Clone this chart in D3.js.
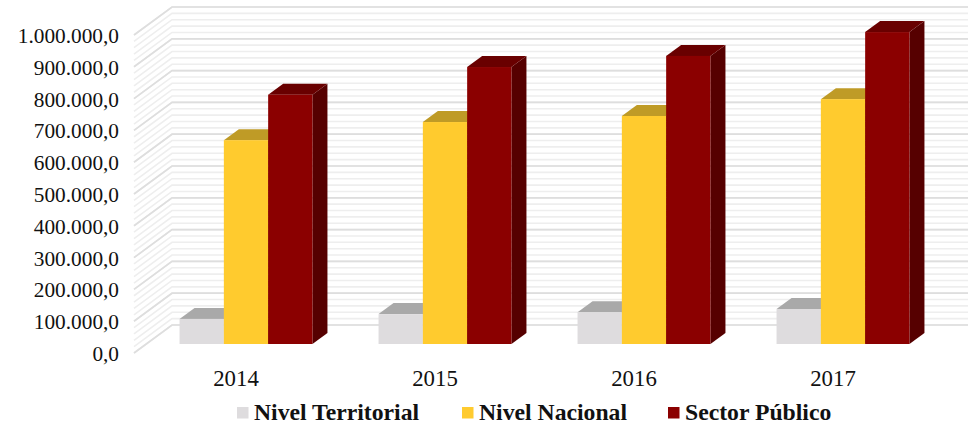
<!DOCTYPE html>
<html><head><meta charset="utf-8">
<script src="https://cdnjs.cloudflare.com/ajax/libs/d3/7.8.5/d3.min.js"></script>
<style>html,body{margin:0;padding:0;background:#fff}svg{display:block}text{font-family:"Liberation Serif",serif;fill:#111}</style>
</head><body><svg id="c" width="973" height="425"></svg>
<script>
const years = ["2014","2015","2016","2017"];
const seriesNames = ["Nivel Territorial","Nivel Nacional","Sector Público"];
const nivelTerritorial = [79000,94000,100000,110000];
const nivelNacional = [641000,698000,717000,770000];
const sectorPublico = [784000,871000,906000,981000];
const seriesValues = [nivelTerritorial,nivelNacional,sectorPublico];
const yTicks = d3.range(0,1000001,100000);
const minorTicks = d3.range(0,1000001,20000);
const frontFill = ["#dedcde","#ffcb2f","#8b0000"];
const topFill = ["#a9a9a9","#bf9b27","#690000"];
const sideFill = ["#7f7f7f","#8c6f14","#560000"];
const legendX = [237,462,668];

const svg = d3.select("#c");
const defs = svg.append("defs");
defs.append("filter").attr("id","soft").attr("x","-5%").attr("y","-5%").attr("width","110%").attr("height","110%")
  .append("feGaussianBlur").attr("stdDeviation",0.5);

// oblique projection: scales per depth plane
const wallH = 318, wallFrontBase = 353, wallDX = 38, wallDY = 28, wallFrontX = 134, wallW = 796;
const barBase = 344, barDX = 15, barDY = 11, plotLeft = 146.5;
const yH = d3.scaleLinear().domain([0,1000000]).range([0,wallH]);
const x0 = d3.scaleBand().domain(years).range([plotLeft,plotLeft+wallW]);
const x1 = d3.scaleBand().domain(d3.range(3)).range([0,x0.bandwidth()]).paddingInner(0).paddingOuter(0.746);

const g = svg.append("g").attr("filter","url(#soft)");
const drawGrid = (ticks,color,w) => {
  const gg = g.append("g").attr("fill","none").attr("stroke",color).attr("stroke-width",w);
  gg.selectAll("path").data(ticks).join("path").attr("d",v=>{
    const yf = wallFrontBase-yH(v);
    return d3.line()([[wallFrontX,yf],[wallFrontX+wallDX,yf-wallDY],[wallFrontX+wallDX+wallW,yf-wallDY]]);
  });
};
drawGrid(minorTicks,"#eeeeee",1.6);
drawGrid(yTicks,"#dedede",1.7);

years.forEach((yr,i)=>{
  const bars = g.append("g");
  seriesValues.forEach((vals,s)=>{
    const x = x0(yr)+x1(s), w = x1.bandwidth(), h = yH(vals[i]), yt = barBase-h;
    bars.append("path").attr("fill",sideFill[s]).attr("d",d3.line()([[x+w,yt],[x+w+barDX,yt-barDY],[x+w+barDX,barBase-barDY],[x+w,barBase]])+"Z");
    bars.append("path").attr("fill",topFill[s]).attr("d",d3.line()([[x,yt],[x+barDX,yt-barDY],[x+w+barDX,yt-barDY],[x+w,yt]])+"Z");
    bars.append("rect").attr("fill",frontFill[s]).attr("x",x).attr("y",yt).attr("width",w).attr("height",h);
  });
});

svg.append("g").selectAll("text").data(yTicks).join("text")
  .attr("x",119).attr("y",v=>wallFrontBase-yH(v)+8).attr("text-anchor","end").attr("font-size",21.3)
  .text(v=>d3.format(",")(v).replace(/,/g,".")+",0");

svg.append("g").selectAll("text").data(years).join("text")
  .attr("x",y=>x0(y)+x0.bandwidth()/2-10).attr("y",386).attr("text-anchor","middle").attr("font-size",22.8)
  .text(y=>y);

const lg = svg.append("g").selectAll("g").data(seriesNames).join("g")
  .attr("transform",(d,i)=>`translate(${legendX[i]},0)`);
lg.append("rect").attr("y",407).attr("width",11.5).attr("height",11.5).attr("fill",(d,i)=>frontFill[i]);
lg.append("text").attr("x",17).attr("y",420).attr("font-size",23.7).attr("font-weight","bold").text(d=>d);
</script></body></html>
